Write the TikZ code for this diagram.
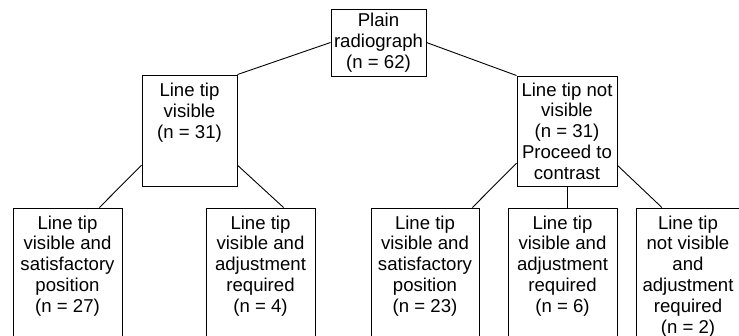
\documentclass[tikz,border=0pt]{standalone}
\usepackage{fontspec}
\setmainfont{Liberation Sans}
\usetikzlibrary{calc}
\begin{document}
\begin{tikzpicture}[x=1pt,y=-1pt,
  box/.style={draw, line width=0.9pt, rectangle, inner sep=0pt, align=center,
    font=\fontsize{18.6}{20.8}\selectfont},
  txt/.style={anchor=north, inner sep=0pt, align=center,
    font=\fontsize{18.6}{20.8}\selectfont},
  link/.style={line width=0.9pt}]
\useasboundingbox (0,0) rectangle (739,336);
\clip (0,0) rectangle (739,336);
% boxes
\node[box, minimum width=95pt, minimum height=67pt] (top) at (378.5,42.5) {Plain\\radiograph\\(n = 62)};
\node[box, minimum width=95pt, minimum height=111pt] (lm) at (189.5,130.5) {};
\node[txt] (lmt) at (189.5,83) {Line tip\\visible\\(n = 31)};
\node[box, minimum width=100pt, minimum height=110pt] (rm) at (567,131) {Line tip not\\visible\\(n = 31)\\Proceed to\\contrast};
\node[box, minimum width=109pt, minimum height=137pt] (b1) at (67.5,276.5) {};
\node[box, minimum width=109pt, minimum height=137pt] (b2) at (260.5,276.5) {};
\node[box, minimum width=108pt, minimum height=137pt] (b3) at (425,276.5) {};
\node[box, minimum width=109pt, minimum height=137pt] (b4) at (562.5,276.5) {};
\node[box, minimum width=109pt, minimum height=137pt] (b5) at (690.5,276.5) {};
\node[txt] (b1t) at (67.5,215.5) {Line tip\\visible and\\satisfactory\\position\\(n = 27)};
\node[txt] (b2t) at (260.5,215.5) {Line tip\\visible and\\adjustment\\required\\(n = 4)};
\node[txt] (b3t) at (425,215.5) {Line tip\\visible and\\satisfactory\\position\\(n = 23)};
\node[txt] (b4t) at (562.5,215.5) {Line tip\\visible and\\adjustment\\required\\(n = 6)};
\node[txt] (b5t) at (688,215.5) {Line tip\\not visible\\and\\adjustment\\required\\(n = 2)};
% connectors
\draw[link] (top.west) -- (lm.north east);
\draw[link] (top.east) -- (rm.north west);
\draw[link] ($(lm.south west)!0.19!(lm.north west)$) -- ($(b1.north west)!0.79!(b1.north east)$);
\draw[link] ($(lm.south east)!0.19!(lm.north east)$) -- ($(b2.north west)!0.71!(b2.north east)$);
\draw[link] ($(rm.south west)!0.21!(rm.north west)$) -- ($(b3.north west)!0.935!(b3.north east)$);
\draw[link] (rm.south) -- (rm.south |- b4.north);
\draw[link] ($(rm.south east)!0.19!(rm.north east)$) -- ($(b5.north west)!0.24!(b5.north east)$);
\end{tikzpicture}
\end{document}
